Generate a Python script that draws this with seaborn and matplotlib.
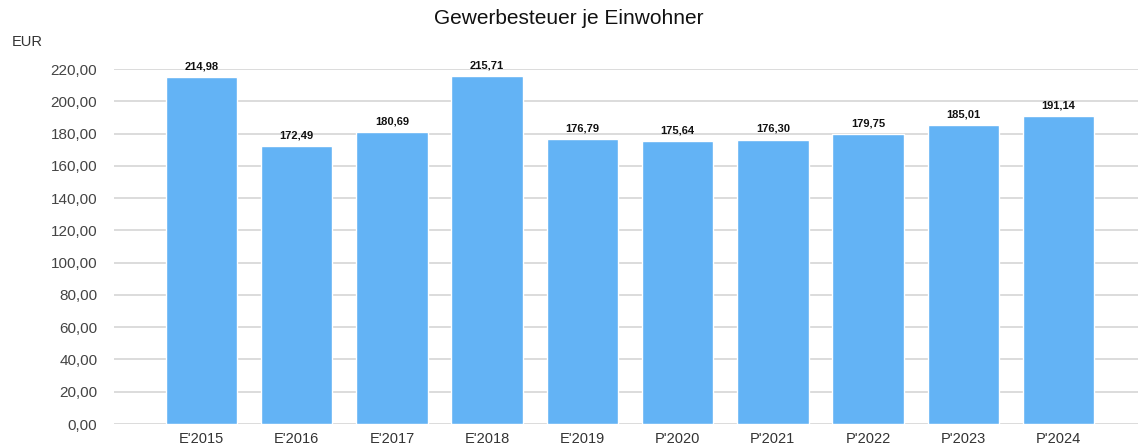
import pandas as pd
import matplotlib
matplotlib.use("Agg")
import matplotlib.pyplot as plt
import seaborn as sns

# chart data
years = ["E'2015", "E'2016", "E'2017", "E'2018", "E'2019",
         "P'2020", "P'2021", "P'2022", "P'2023", "P'2024"]
values = [214.98, 172.49, 180.69, 215.71, 176.79,
          175.64, 176.30, 179.75, 185.01, 191.14]
y_ticks = [0, 20, 40, 60, 80, 100, 120, 140, 160, 180, 200, 220]

df = pd.DataFrame({'year': years, 'value': values})

sns.set_style('white')
plt.rcParams['font.family'] = ['Liberation Sans', 'DejaVu Sans']

fig = plt.figure(figsize=(11.38, 4.48), dpi=100)
ax = fig.add_axes([114 / 1138, 24 / 448, 1 - 114 / 1138, (424 - 69) / 448])

sns.barplot(x='year', y='value', data=df, color='#63b3f5', width=0.75,
            saturation=1, ax=ax, zorder=2)

# value labels above bars
for i, v in enumerate(values):
    ax.annotate(f'{v:.2f}'.replace('.', ','), (i, v), xytext=(0, 4),
                textcoords='offset points', ha='center', va='bottom',
                fontsize=8, fontweight='bold', color='#111111', clip_on=False)

ax.set_ylim(0, 220)
ax.set_xlim(-0.919, 9.835)
ax.set_yticks(y_ticks)
ax.set_yticklabels([f'{t:.2f}'.replace('.', ',') for t in y_ticks])
ax.yaxis.grid(True, color='#d6d6d6', linewidth=1.2, zorder=0)
ax.set_axisbelow(True)
ax.tick_params(axis='y', labelsize=11, labelcolor='#444444', length=0, pad=12)
ax.tick_params(axis='x', labelsize=10.5, labelcolor='#333333', length=0, pad=6)
ax.set_xlabel('')
ax.set_ylabel('')
for s in ax.spines.values():
    s.set_visible(False)

fig.text(0.5, 1 - 18 / 448, 'Gewerbesteuer je Einwohner', ha='center', va='center',
         fontsize=15, color='#111111')
fig.text(12 / 1138, 1 - 42 / 448, 'EUR', ha='left', va='center',
         fontsize=10.5, color='#333333')

fig.savefig('out.png', dpi=100)
